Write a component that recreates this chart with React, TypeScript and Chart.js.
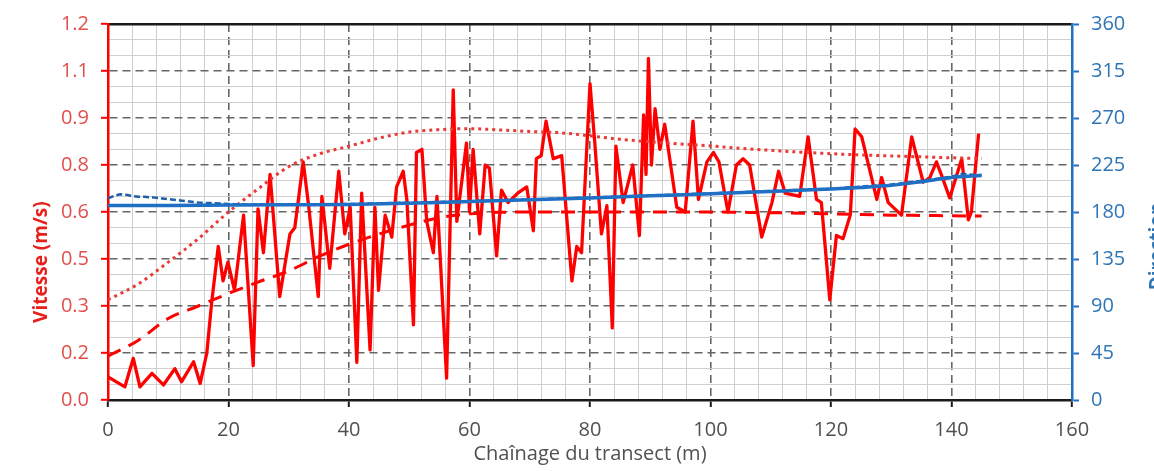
import React, { useEffect, useRef } from 'react';
import { Chart, registerables } from 'chart.js';

Chart.register(...registerables);

// ---- Data ----
const chainage = [
  0, 2.8, 4.2, 5.3, 7.3, 9.2, 11.1, 12.2, 14.2, 15.3, 16.4, 17.2, 18.3, 19.1, 19.9, 21.0, 22.5, 24.1, 24.9, 25.8,
  26.9, 28.5, 30.2, 31.0, 32.4, 33.3, 34.9, 35.5, 36.8, 38.3, 39.3, 40.2, 41.3, 42.1, 43.5, 44.3, 44.9, 46.0, 47.1, 47.9,
  49.0, 49.6, 50.7, 51.2, 52.1, 52.9, 54.0, 54.6, 56.2, 57.3, 57.9, 59.5, 60.0, 60.6, 61.7, 62.6, 63.3, 64.5, 65.3, 66.4,
  68.0, 69.5, 70.6, 71.1, 71.9, 72.7, 73.9, 75.3, 77.0, 77.8, 78.6, 80.0, 80.8, 81.9, 82.8, 83.7, 84.3, 85.5, 87.1, 88.2,
  88.9, 89.3, 89.7, 90.2, 90.8, 91.6, 92.4, 94.4, 95.8, 97.1, 98.0, 99.4, 100.5, 101.4, 102.9, 104.3, 105.4, 106.5, 108.5, 110.2,
  111.3, 112.4, 114.8, 116.2, 117.6, 118.4, 119.8, 120.9, 122.0, 123.2, 124.0, 125.1, 127.6, 128.4, 129.5, 131.7, 133.4, 135.3, 136.4, 137.5,
  138.3, 139.7, 141.7, 142.8, 143.3, 144.5,
];
const vitesse = [
  0.074, 0.042, 0.133, 0.042, 0.085, 0.048, 0.10, 0.058, 0.122, 0.053, 0.15, 0.31, 0.49, 0.38, 0.44, 0.35, 0.59, 0.11, 0.61, 0.47,
  0.72, 0.33, 0.53, 0.55, 0.76, 0.62, 0.33, 0.65, 0.42, 0.73, 0.53, 0.615, 0.12, 0.66, 0.16, 0.615, 0.35, 0.59, 0.52, 0.68,
  0.73, 0.64, 0.24, 0.79, 0.80, 0.57, 0.47, 0.65, 0.07, 0.99, 0.57, 0.82, 0.60, 0.80, 0.53, 0.75, 0.74, 0.46, 0.67, 0.63,
  0.66, 0.68, 0.54, 0.77, 0.78, 0.89, 0.77, 0.78, 0.38, 0.49, 0.47, 1.01, 0.82, 0.53, 0.62, 0.23, 0.81, 0.63, 0.75, 0.525,
  0.91, 0.72, 1.09, 0.75, 0.93, 0.80, 0.88, 0.615, 0.60, 0.89, 0.64, 0.76, 0.79, 0.76, 0.60, 0.75, 0.77, 0.75, 0.52, 0.63,
  0.73, 0.66, 0.65, 0.84, 0.64, 0.63, 0.32, 0.525, 0.515, 0.59, 0.865, 0.84, 0.64, 0.71, 0.63, 0.59, 0.84, 0.695, 0.71, 0.76,
  0.72, 0.645, 0.77, 0.575, 0.60, 0.85,
];

const trendX = [0, 5, 10, 15, 20, 25, 30, 35, 40, 45, 50, 55, 60, 65, 70, 75, 80, 85, 90, 95, 100, 105, 110, 115, 120, 125, 130, 135, 140, 145];
const vitesseDashed = [
  0.14, 0.19, 0.26, 0.30, 0.34, 0.377, 0.412, 0.458, 0.497, 0.53, 0.558, 0.582, 0.594, 0.599, 0.60,
  0.60, 0.60, 0.60, 0.60, 0.60, 0.60, 0.599, 0.598, 0.596, 0.594, 0.592, 0.59, 0.589, 0.588, 0.587,
];
const vitesseDotted = [
  0.32, 0.37, 0.44, 0.515, 0.60, 0.675, 0.745, 0.785, 0.81, 0.836, 0.855, 0.863, 0.866, 0.862, 0.857,
  0.853, 0.843, 0.832, 0.824, 0.817, 0.811, 0.803, 0.797, 0.791, 0.786, 0.782, 0.779, 0.776, 0.773, 0.771,
];

const dirX = [0, 10, 20, 30, 40, 50, 60, 70, 80, 90, 100, 110, 120, 125, 130, 135, 140, 145];
const direction = [186.2, 186.3, 186.6, 186.9, 187.2, 188.4, 190, 191.7, 193.5, 195.5, 197.5, 199.7, 202, 203.5, 205.5, 209, 213, 215];

const dirDashedX = [0, 1, 2, 3, 4, 5, 6, 7.5, 9, 10.5, 12, 13.5, 15, 17, 19, 21, 23, 30, 40, 60, 80, 100, 120, 130, 138, 140, 142, 144, 145];
const directionDashed = [
  193, 195.5, 197, 196.5, 195.5, 194.5, 194.5, 194, 193, 192, 191, 190, 189, 188.5, 188, 187.5, 187.3, 187.3, 187.6,
  190.3, 193.8, 197.8, 202.3, 206.3, 212, 214, 216.5, 215.5, 215.5,
];

const xTickLabels = ['0', '20', '40', '60', '80', '100', '120', '140', '160'];
const leftTickLabels = ['0.0', '0.2', '0.3', '0.5', '0.6', '0.8', '0.9', '1.1', '1.2'];
const rightTickLabels = ['0', '45', '90', '135', '180', '225', '270', '315', '360'];

const leftTitle = 'Vitesse (m/s)';
const rightTitle = 'Direction';
const xTitle = 'Chaînage du transect (m)';

// ---- Styling ----
const FONT = "'Open Sans', 'DejaVu Sans', sans-serif";
const RED = '#ff0000';
const BLUE = '#1f6fc4';

const isMult = (v: number, step: number) => Math.abs(v / step - Math.round(v / step)) < 1e-6;

const pts = (xs: number[], ys: number[]) => xs.map((x, i) => ({ x, y: ys[i] }));

const titlePlugin = {
  id: 'yTitles',
  afterDraw(chart: any) {
    const { ctx } = chart;
    const y = chart.scales.y;
    const y1 = chart.scales.y1;
    ctx.save();
    ctx.font = `bold 19px ${FONT}`;
    ctx.textAlign = 'center';
    ctx.textBaseline = 'middle';
    ctx.fillStyle = '#e8201c';
    ctx.translate(42, y.getPixelForValue(0.44));
    ctx.rotate(-Math.PI / 2);
    ctx.fillText(leftTitle, 0, 0);
    ctx.restore();
    ctx.save();
    ctx.font = `bold 19px ${FONT}`;
    ctx.textAlign = 'center';
    ctx.textBaseline = 'middle';
    ctx.fillStyle = '#2e75b6';
    ctx.translate(y1.right + 4, y1.getPixelForValue(147));
    ctx.rotate(-Math.PI / 2);
    ctx.fillText(rightTitle, 0, 0);
    ctx.restore();
  },
};

export default function App() {
  const ref = useRef<HTMLCanvasElement | null>(null);

  useEffect(() => {
    if (!ref.current) return;
    const chart = new Chart(ref.current, {
      type: 'line',
      data: {
        datasets: [
          {
            label: 'Direction',
            data: pts(dirX, direction),
            borderColor: BLUE,
            borderWidth: 3.5,
            pointRadius: 0,
            cubicInterpolationMode: 'monotone',
            xAxisID: 'x',
            yAxisID: 'y1',
            order: 0,
          },
          {
            label: 'Direction (tendance)',
            data: pts(dirDashedX, directionDashed),
            borderColor: '#1d5fa8',
            borderWidth: 2.5,
            borderDash: [6, 3],
            pointRadius: 0,
            tension: 0,
            xAxisID: 'x',
            yAxisID: 'y1',
            order: 1,
          },
          {
            label: 'Vitesse (tendance pointillée)',
            data: pts(trendX, vitesseDotted),
            borderColor: '#ea3a36',
            borderWidth: 3,
            borderDash: [3, 4],
            pointRadius: 0,
            cubicInterpolationMode: 'monotone',
            xAxisID: 'x',
            yAxisID: 'y',
            order: 2,
          },
          {
            label: 'Vitesse (tendance)',
            data: pts(trendX, vitesseDashed),
            borderColor: RED,
            borderWidth: 3,
            borderDash: [14, 9],
            pointRadius: 0,
            cubicInterpolationMode: 'monotone',
            xAxisID: 'x',
            yAxisID: 'y',
            order: 3,
          },
          {
            label: 'Vitesse',
            data: pts(chainage, vitesse),
            borderColor: RED,
            borderWidth: 3.3,
            borderJoinStyle: 'round',
            pointRadius: 0,
            tension: 0,
            xAxisID: 'x',
            yAxisID: 'y',
            order: 4,
          },
        ],
      },
      options: {
        animation: false,
        responsive: false,
        devicePixelRatio: 1,
        layout: { padding: 0 },
        plugins: {
          legend: { display: false },
          tooltip: { enabled: false },
        },
        scales: {
          x: {
            type: 'linear',
            position: 'bottom',
            min: 0,
            max: 160,
            afterFit: (s: any) => { s.height = 71; },
            ticks: {
              stepSize: 4,
              autoSkip: false,
              maxRotation: 0,
              padding: 11,
              color: '#505050',
              font: { family: FONT, size: 20 },
              callback: (v: any) => (isMult(Number(v), 20) ? xTickLabels[Math.round(Number(v) / 20)] : ''),
            },
            grid: {
              color: (c: any) => (c.tick && isMult(c.tick.value, 20) ? '#666666' : '#cfcfcf'),
              lineWidth: (c: any) => (c.tick && isMult(c.tick.value, 20) ? 1.6 : 1),
              tickColor: (c: any) => (c.tick && isMult(c.tick.value, 20) ? '#1a1a1a' : 'rgba(0,0,0,0)'),
              tickLength: 7,
              tickWidth: 2,
            },
            border: {
              color: '#1a1a1a',
              width: 2.5,
              dash: (c: any) => (c.tick && isMult(c.tick.value, 20) ? [8, 5] : []),
            },
            title: {
              display: true,
              text: xTitle,
              color: '#505050',
              font: { family: FONT, size: 20 },
              padding: { top: 0, bottom: 5 },
            },
          },
          x2: {
            type: 'linear',
            position: 'top',
            min: 0,
            max: 160,
            afterFit: (s: any) => { s.height = 23; },
            ticks: { display: false },
            grid: { display: false, drawTicks: false },
            border: { display: true, color: '#1a1a1a', width: 2.5 },
          },
          y: {
            type: 'linear',
            position: 'left',
            min: 0,
            max: 1.2,
            afterFit: (s: any) => { s.width = 108; },
            ticks: {
              stepSize: 0.05,
              autoSkip: false,
              padding: 12,
              color: '#e0504c',
              font: { family: FONT, size: 20 },
              callback: (v: any) => (isMult(Number(v), 0.15) ? leftTickLabels[Math.round(Number(v) / 0.15)] : ''),
            },
            grid: {
              color: (c: any) => (c.tick && isMult(c.tick.value, 0.15) ? '#666666' : '#cfcfcf'),
              lineWidth: (c: any) => (c.tick && isMult(c.tick.value, 0.15) ? 1.6 : 1),
              tickColor: (c: any) => (c.tick && isMult(c.tick.value, 0.15) ? RED : 'rgba(0,0,0,0)'),
              tickLength: 7,
              tickWidth: 2,
            },
            border: {
              color: RED,
              width: 2.5,
              dash: (c: any) => (c.tick && isMult(c.tick.value, 0.15) ? [8, 5] : []),
            },
          },
          y1: {
            type: 'linear',
            position: 'right',
            min: 0,
            max: 360,
            afterFit: (s: any) => { s.width = 82; },
            ticks: {
              stepSize: 15,
              autoSkip: false,
              padding: 12,
              color: '#2e75b6',
              font: { family: FONT, size: 20 },
              callback: (v: any) => (isMult(Number(v), 45) ? rightTickLabels[Math.round(Number(v) / 45)] : ''),
            },
            grid: {
              drawOnChartArea: false,
              tickColor: (c: any) => (c.tick && isMult(c.tick.value, 45) ? BLUE : 'rgba(0,0,0,0)'),
              tickLength: 7,
              tickWidth: 2,
            },
            border: { color: BLUE, width: 2.5 },
          },
        },
      } as any,
      plugins: [titlePlugin],
    });
    return () => chart.destroy();
  }, []);

  return (
    <div style={{ position: 'fixed', left: 0, top: 0, width: 1154, height: 471, background: '#fff', overflow: 'hidden' }}>
      <canvas ref={ref} width={1154} height={471} style={{ display: 'block', width: '1154px', height: '471px' }} />
    </div>
  );
}
